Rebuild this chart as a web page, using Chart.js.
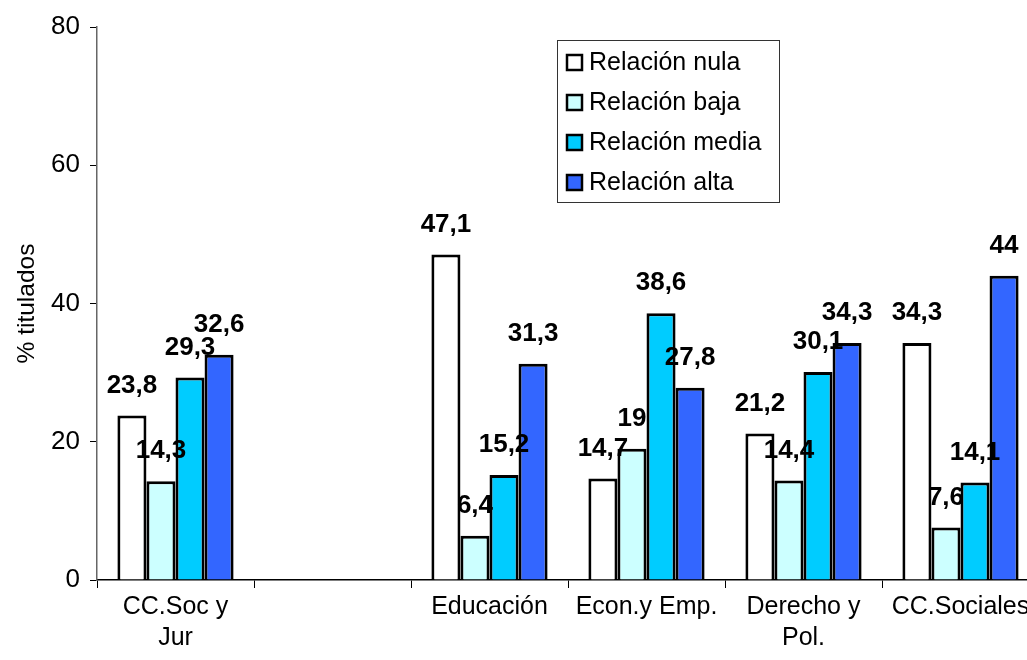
<!DOCTYPE html>
<html>
<head>
<meta charset="utf-8">
<script src="https://cdn.jsdelivr.net/npm/chart.js@4"></script>
<style>
  html,body{margin:0;padding:0;background:#fff;overflow:hidden;}
  #wrap{width:1027px;height:660px;overflow:hidden;}
</style>
</head>
<body>
<div id="wrap"><canvas id="chart" width="1060" height="660"></canvas></div>
<script>
// chart data
const categories = [['CC.Soc y','Jur'], '', 'Educación', 'Econ.y Emp.', ['Derecho y','Pol.'], 'CC.Sociales'];
const seriesNames = ['Relación nula','Relación baja','Relación media','Relación alta'];
const nula  = [23.8, null, 47.1, 14.7, 21.2, 34.3];
const baja  = [14.3, null, 6.4, 19, 14.4, 7.6];
const media = [29.3, null, 15.2, 38.6, 30.1, 14.1];
const alta  = [32.6, null, 31.3, 27.8, 34.3, 44];
const yTicks = [0, 20, 40, 60, 80];

const colors = ['#FFFFFF','#CCFFFF','#00CCFF','#3366FF'];
const font = 'Liberation Sans, Arial, sans-serif';

// value labels drawn on top of all bars
const valueLabels = {
  id:'valueLabels',
  afterDatasetsDraw(chart){
    const ctx = chart.ctx;
    ctx.save();
    ctx.font = 'bold 26px ' + font;
    ctx.fillStyle = '#000';
    ctx.textAlign = 'center';
    ctx.textBaseline = 'middle';
    chart.data.datasets.forEach((ds, i) => {
      chart.getDatasetMeta(i).data.forEach((bar, j) => {
        const v = ds.data[j];
        if(v === null) return;
        ctx.fillText(String(v).replace('.', ','), bar.x, bar.y - 30);
      });
    });
    ctx.restore();
  }
};

// boxed legend inside the plot area
const boxLegend = {
  id:'boxLegend',
  afterDraw(chart){
    const ctx = chart.ctx;
    const a = chart.chartArea;
    const x0 = a.left + 460, y0 = a.top + 13;
    ctx.save();
    ctx.fillStyle = '#fff';
    ctx.fillRect(x0, y0, 222, 162);
    ctx.strokeStyle = '#333';
    ctx.lineWidth = 1;
    ctx.strokeRect(x0 + 0.5, y0 + 0.5, 222, 162);
    ctx.font = '25px ' + font;
    ctx.textBaseline = 'middle';
    chart.data.datasets.forEach((ds, i) => {
      const cy = y0 + 22 + i * 40;
      ctx.fillStyle = ds.backgroundColor;
      ctx.fillRect(x0 + 10, cy - 7, 15, 15);
      ctx.strokeStyle = '#000';
      ctx.lineWidth = 2.5;
      ctx.strokeRect(x0 + 10, cy - 7, 15, 15);
      ctx.fillStyle = '#000';
      ctx.fillText(ds.label, x0 + 32, cy + 1);
    });
    ctx.restore();
  }
};

const ctx = document.getElementById('chart').getContext('2d');
new Chart(ctx, {
  type:'bar',
  data:{
    labels:categories,
    datasets:[nula, baja, media, alta].map((d, i) => ({
      label:seriesNames[i],
      data:d,
      backgroundColor:colors[i],
      borderColor:'#000',
      borderWidth:3,
      categoryPercentage:0.74,
      barPercentage:1
    }))
  },
  options:{
    responsive:false,
    animation:false,
    layout:{padding:{top:27, right:21, left:0, bottom:0}},
    plugins:{legend:{display:false}, tooltip:{enabled:false}},
    scales:{
      x:{
        grid:{drawOnChartArea:false, color:'#000', tickLength:8, offset:true},
        border:{color:'#000', width:1.5},
        ticks:{color:'#000', font:{family:font, size:25, lineHeight:1.25}, padding:3, maxRotation:0, autoSkip:false},
        afterFit(scale){ scale.height = 80; }
      },
      y:{
        min:0, max:80,
        afterBuildTicks(scale){ scale.ticks = yTicks.map(v => ({value:v})); },
        grid:{drawOnChartArea:false, color:'#000', tickLength:7},
        border:{color:'#666', width:1.5},
        ticks:{color:'#000', font:{family:font, size:26}, padding:10},
        title:{display:true, text:'% titulados', color:'#000', font:{family:font, size:24.5}, padding:{top:13, bottom:0}},
        afterFit(scale){ scale.width = 97; }
      }
    }
  },
  plugins:[valueLabels, boxLegend]
});
</script>
</body>
</html>
